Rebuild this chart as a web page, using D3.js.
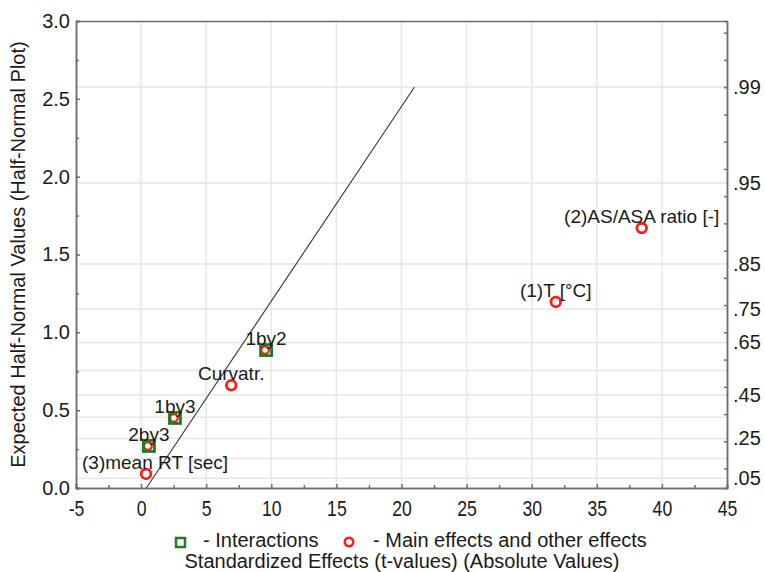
<!DOCTYPE html>
<html>
<head>
<meta charset="utf-8">
<script src="https://cdn.jsdelivr.net/npm/d3@7"></script>
<style>
  body { margin: 0; background: #fff; }
  svg { font-family: "Liberation Sans", Arial, sans-serif; }
</style>
</head>
<body>
<div id="chart"></div>
<script>
// main effects (red circles)
const mainNames = ["(2)AS/ASA ratio [-]", "(1)T [°C]", "Curvatr.", "(3)mean RT [sec]"];
const mainX = [38.45, 31.85, 6.92, 0.38];
const mainY = [1.67, 1.195, 0.66, 0.09];

// interactions (green squares)
const interNames = ["1by2", "1by3", "2by3"];
const interX = [9.6, 2.6, 0.6];
const interY = [0.886, 0.45, 0.27];

// reference line end points
const lineX = [0.4, 21.0];
const lineY = [0.0, 2.576];

const xTicks = [-5, 0, 5, 10, 15, 20, 25, 30, 35, 40, 45];
const yTicks = [0, 0.5, 1.0, 1.5, 2.0, 2.5, 3.0];
// right axis: half-normal probabilities
const probGrid = [0.05, 0.15, 0.25, 0.35, 0.45, 0.55, 0.65, 0.75, 0.85, 0.95, 0.99];
const probLabels = [0.05, 0.25, 0.45, 0.65, 0.75, 0.85, 0.95, 0.99];

const width = 765, height = 572;
const margin = { top: 21, right: 38, bottom: 84, left: 76 };
const iw = width - margin.left - margin.right;
const ih = height - margin.top - margin.bottom;

const x = d3.scaleLinear().domain([-5, 45]).range([0, iw]);
const y = d3.scaleLinear().domain([0, 3]).range([ih, 0]);

function inverseNormal(p) {
  // Acklam's approximation
  const a = [-3.969683028665376e+01, 2.209460984245205e+02, -2.759285104469687e+02, 1.383577518672690e+02, -3.066479806614716e+01, 2.506628277459239e+00];
  const b = [-5.447609879822406e+01, 1.615858368580409e+02, -1.556989798598866e+02, 6.680131188771972e+01, -1.328068155288572e+01];
  const c = [-7.784894002430293e-03, -3.223964580411365e-01, -2.400758277161838e+00, -2.549732539343734e+00, 4.374664141464968e+00, 2.938163982698783e+00];
  const d = [7.784695709041462e-03, 3.224671290700398e-01, 2.445134137142996e+00, 3.754408661907416e+00];
  const pl = 0.02425;
  let q, r;
  if (p < pl) {
    q = Math.sqrt(-2 * Math.log(p));
    return (((((c[0]*q+c[1])*q+c[2])*q+c[3])*q+c[4])*q+c[5]) / ((((d[0]*q+d[1])*q+d[2])*q+d[3])*q+1);
  } else if (p <= 1 - pl) {
    q = p - 0.5; r = q * q;
    return (((((a[0]*r+a[1])*r+a[2])*r+a[3])*r+a[4])*r+a[5])*q / (((((b[0]*r+b[1])*r+b[2])*r+b[3])*r+b[4])*r+1);
  }
  q = Math.sqrt(-2 * Math.log(1 - p));
  return -(((((c[0]*q+c[1])*q+c[2])*q+c[3])*q+c[4])*q+c[5]) / ((((d[0]*q+d[1])*q+d[2])*q+d[3])*q+1);
}
// expected half-normal value for a cumulative probability
const hn = p => inverseNormal((1 + p) / 2);

const svg = d3.select("#chart").append("svg")
  .attr("width", width)
  .attr("height", height);

const g = svg.append("g").attr("transform", `translate(${margin.left},${margin.top})`);

// grid
g.append("g").selectAll("line")
  .data(xTicks.slice(1, -1))
  .join("line")
  .attr("x1", d => x(d)).attr("x2", d => x(d))
  .attr("y1", 0).attr("y2", ih)
  .attr("stroke", "#e6e6e6").attr("stroke-width", 1.5);

g.append("g").selectAll("line")
  .data(probGrid)
  .join("line")
  .attr("x1", 0).attr("x2", iw)
  .attr("y1", d => y(hn(d))).attr("y2", d => y(hn(d)))
  .attr("stroke", "#e6e6e6").attr("stroke-width", 1.5);

// axes
const axisColor = "#6e6e6e";
const xAxis = g.append("g").attr("transform", `translate(0,${ih})`)
  .call(d3.axisBottom(x).tickValues(xTicks).tickSize(-4).tickPadding(12).tickFormat(d => String(d)));
const xMinor = g.append("g").attr("transform", `translate(0,${ih})`)
  .call(d3.axisBottom(x).tickValues(d3.range(-2.5, 45, 5)).tickSize(-3).tickFormat(""));

const yAxis = g.append("g")
  .call(d3.axisLeft(y).tickValues(yTicks).tickSize(-4).tickPadding(6).tickFormat(d => d.toFixed(1)));
const yMinor = g.append("g")
  .call(d3.axisLeft(y).tickValues(d3.range(0.25, 3, 0.5)).tickSize(-3).tickFormat(""));

const rAxis = g.append("g").attr("transform", `translate(${iw},0)`)
  .call(d3.axisRight(y).tickValues(probLabels.map(hn)).tickSize(0).tickPadding(6)
    .tickFormat((d, i) => probLabels[i].toFixed(2).replace(/^0/, "")));
const rMinor = g.append("g").attr("transform", `translate(${iw},0)`)
  .call(d3.axisRight(y).tickValues(d3.range(0.125, 3, 0.175)).tickSize(-3).tickFormat(""));

const topAxis = g.append("g")
  .call(d3.axisTop(x).tickValues([]).tickSizeOuter(0));

[xAxis, xMinor, yAxis, yMinor, rAxis, rMinor, topAxis].forEach(a => {
  a.select(".domain").attr("stroke", axisColor).attr("stroke-width", 1.5);
  a.selectAll(".tick line").attr("stroke", axisColor).attr("stroke-width", 1.5);
  a.selectAll(".tick text").attr("fill", "#1a1a1a").style("font-size", "20px");
});
// bottom tick labels are tall and narrow in the original
xAxis.selectAll(".tick text")
  .style("font-size", "22px")
  .attr("transform", "scale(0.8,1)");

// reference line
g.append("line")
  .attr("x1", x(lineX[0])).attr("y1", y(lineY[0]))
  .attr("x2", x(lineX[1])).attr("y2", y(lineY[1]))
  .attr("stroke", "#333").attr("stroke-width", 1.1);

const red = "#ff1a1a", green = "#1e7d1e";

const inter = interNames.map((n, i) => ({ name: n, x: interX[i], y: interY[i] }));
const mains = mainNames.map((n, i) => ({ name: n, x: mainX[i], y: mainY[i] }));

// interaction markers: red ring under a green square
g.append("g").selectAll("circle")
  .data(inter)
  .join("circle")
  .attr("cx", d => x(d.x) - 1).attr("cy", d => y(d.y))
  .attr("r", 3.8).attr("fill", "#fff")
  .attr("stroke", red).attr("stroke-width", 2.2);

g.append("g").selectAll("rect")
  .data(inter)
  .join("rect")
  .attr("x", d => x(d.x) - 5.5).attr("y", d => y(d.y) - 5.5)
  .attr("width", 11).attr("height", 11)
  .attr("fill", "none")
  .attr("stroke", green).attr("stroke-width", 2.8);

g.append("g").selectAll("circle")
  .data(mains)
  .join("circle")
  .attr("cx", d => x(d.x)).attr("cy", d => y(d.y))
  .attr("r", 4.8).attr("fill", "#fff")
  .attr("stroke", red).attr("stroke-width", 2.8);

// labels
const labels = g.append("g").selectAll("text")
  .data(mains.concat(inter))
  .join("text")
  .attr("text-anchor", "middle")
  .attr("y", d => y(d.y) - 5)
  .attr("fill", "#1a1a1a")
  .style("font-size", "19px")
  .text(d => d.name);

// keep labels inside the plot frame
labels.each(function (d) {
  const w = this.getComputedTextLength();
  let cx = x(d.x);
  cx = Math.max(cx, w / 2 + 6);
  cx = Math.min(cx, iw - w / 2 - 6);
  d3.select(this).attr("x", cx);
});

// legend
const leg = svg.append("g").style("font-size", "20px").attr("fill", "#1a1a1a");
leg.append("rect")
  .attr("x", 176).attr("y", 538).attr("width", 9).attr("height", 9)
  .attr("fill", "none").attr("stroke", green).attr("stroke-width", 2.5);
leg.append("text").attr("x", 203).attr("y", 547).text("- Interactions");
leg.append("circle")
  .attr("cx", 349).attr("cy", 542).attr("r", 4.2)
  .attr("fill", "none").attr("stroke", red).attr("stroke-width", 2.6);
leg.append("text").attr("x", 373).attr("y", 547).text("- Main effects and other effects");

// axis titles
svg.append("text")
  .attr("x", 402).attr("y", 568)
  .attr("text-anchor", "middle")
  .style("font-size", "20px").attr("fill", "#1a1a1a")
  .text("Standardized Effects (t-values) (Absolute Values)");

svg.append("text")
  .attr("transform", `translate(25,${margin.top + ih / 2}) rotate(-90)`)
  .attr("text-anchor", "middle")
  .style("font-size", "20px").attr("fill", "#1a1a1a")
  .text("Expected Half-Normal Values (Half-Normal Plot)");
</script>
</body>
</html>
